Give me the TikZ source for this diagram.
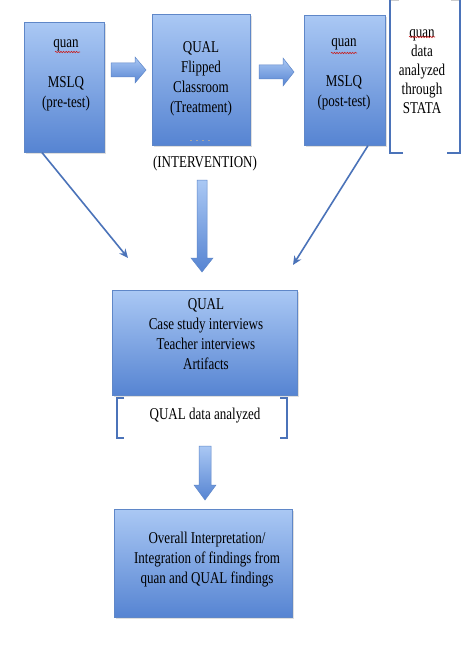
\documentclass[tikz,border=0pt]{standalone}
\usepackage{fontspec}
\setmainfont{Liberation Serif}[FakeStretch=0.79]
\usetikzlibrary{shadows,arrows.meta,decorations.pathmorphing,calc}

\definecolor{boxtop}{RGB}{170,200,244}
\definecolor{boxbot}{RGB}{86,132,210}
\definecolor{boxline}{RGB}{95,135,200}
\definecolor{linkblue}{RGB}{75,115,185}
\definecolor{wavered}{RGB}{200,30,30}

\newcommand\myhbarrow[5]{%
  \path[blockarr] let \p1=(#1), \p2=(#2) in
    (\x1,\y1+#3) -- (\x2-#5,\y1+#3) -- (\x2-#5,\y1+#4) -- (\x2,\y1)
    -- (\x2-#5,\y1-#4) -- (\x2-#5,\y1-#3) -- (\x1,\y1-#3) -- cycle;}
\newcommand\myvbarrow[5]{%
  \path[blockarr] let \p1=(#1), \p2=(#2) in
    (\x1-#3,\y1) -- (\x1+#3,\y1) -- (\x1+#3,\y2+#5) -- (\x1+#4,\y2+#5) -- (\x1,\y2)
    -- (\x1-#4,\y2+#5) -- (\x1-#3,\y2+#5) -- cycle;}

\begin{document}
\begin{tikzpicture}[x=1pt,y=-1pt,
  bluebox/.style={draw=boxline, line width=0.6pt, top color=boxtop, bottom color=boxbot,
    drop shadow={opacity=0.25, shadow xshift=1.5pt, shadow yshift=-1.5pt},
    inner sep=0pt, anchor=north west},
  txt/.style={font=\fontsize{16.5}{20}\selectfont, align=center, inner sep=0pt, text=black},
  blockarr/.style={draw=boxline, line width=0.5pt, top color=boxtop, bottom color=boxbot},
  brk/.style={draw=linkblue, line width=1.8pt},
  thinarr/.style={draw=linkblue, line width=1.6pt, -{Stealth[length=9pt,width=8pt]}},
  wavy/.style={draw=wavered, line width=0.6pt, decorate,
    decoration={snake, amplitude=0.7pt, segment length=2.6pt}}
]
\useasboundingbox (0,0) rectangle (474,658);
\fill[white] (0,0) rectangle (474,658);

% boxes
\node[bluebox, minimum width=80pt, minimum height=130pt] (b1) at (24,22) {};
\node[bluebox, minimum width=98pt, minimum height=131pt] (b2) at (152,14) {};
\node[bluebox, minimum width=81pt, minimum height=130pt] (b3) at (304,15) {};
\node[bluebox, minimum width=185pt, minimum height=105pt] (b4) at (112,290) {};
\node[bluebox, minimum width=178pt, minimum height=108pt] (b5) at (114,509) {};

% texts
\node[txt] (t1) at (66,75) {quan\\[20pt]MSLQ\\(pre-test)};
\node[txt] (t2) at (201,79) {QUAL\\Flipped\\Classroom\\(Treatment)};
\node[txt] (t3) at (344,74) {quan\\[20pt]MSLQ\\(post-test)};
\node[txt, font=\fontsize{16.5}{19}\selectfont] (tq) at (422,72) {quan\\data\\analyzed\\through\\STATA};
\node[txt] (ti) at (205,164) {(INTERVENTION)};
\node[txt] (t4) at (206,334) {QUAL\\Case study interviews\\Teacher interviews\\Artifacts};
\node[txt] (tqa) at (205,416) {QUAL data analyzed};
\node[txt] (t5) at (207,560) {Overall Interpretation/\\Integration of findings from\\quan and QUAL findings};

% spell-check wavy underlines
\draw[wavy] (55,52) -- (80,52);
\draw[wavy] (331,53) -- (357,53);
\draw[wavy] (409,37) -- (435,37);

% faint dots in flipped classroom box
\draw[gray!70, line width=0.7pt, dash pattern=on 2pt off 4pt] (190,140) -- (214,140);

% block arrows
\coordinate (a1s) at (111,70); \coordinate (a1e) at (146,70);
\coordinate (a2s) at (259,72); \coordinate (a2e) at (294,72);
\coordinate (a3s) at (202,180); \coordinate (a3e) at (202,272);
\coordinate (a4s) at (205,446); \coordinate (a4e) at (205,500);
\myhbarrow{a1s}{a1e}{7pt}{13pt}{11pt}
\myhbarrow{a2s}{a2e}{7pt}{14pt}{11pt}
\myvbarrow{a3s}{a3e}{5pt}{11pt}{14pt}
\myvbarrow{a4s}{a4e}{6pt}{11pt}{15pt}

% diagonal arrows
\coordinate (d1e) at (128,258);
\coordinate (d2e) at (293,265);
\draw[thinarr] ([xshift=18pt]b1.south west) -- (d1e);
\draw[thinarr] ([xshift=64pt]b3.south west) -- (d2e);

% brackets
\draw[brk] (403,153) -- (390,153) -- (390,0);
\draw[brk] (447,153) -- (460,153) -- (460,0);
\draw[gray!40, line width=1pt] (391,1) -- (399,1) (451,1) -- (459,1);
\draw[brk] (124,398) -- (117,398) -- (117,438) -- (124,438);
\draw[brk] (280,398) -- (287,398) -- (287,438) -- (280,438);
\end{tikzpicture}
\end{document}
